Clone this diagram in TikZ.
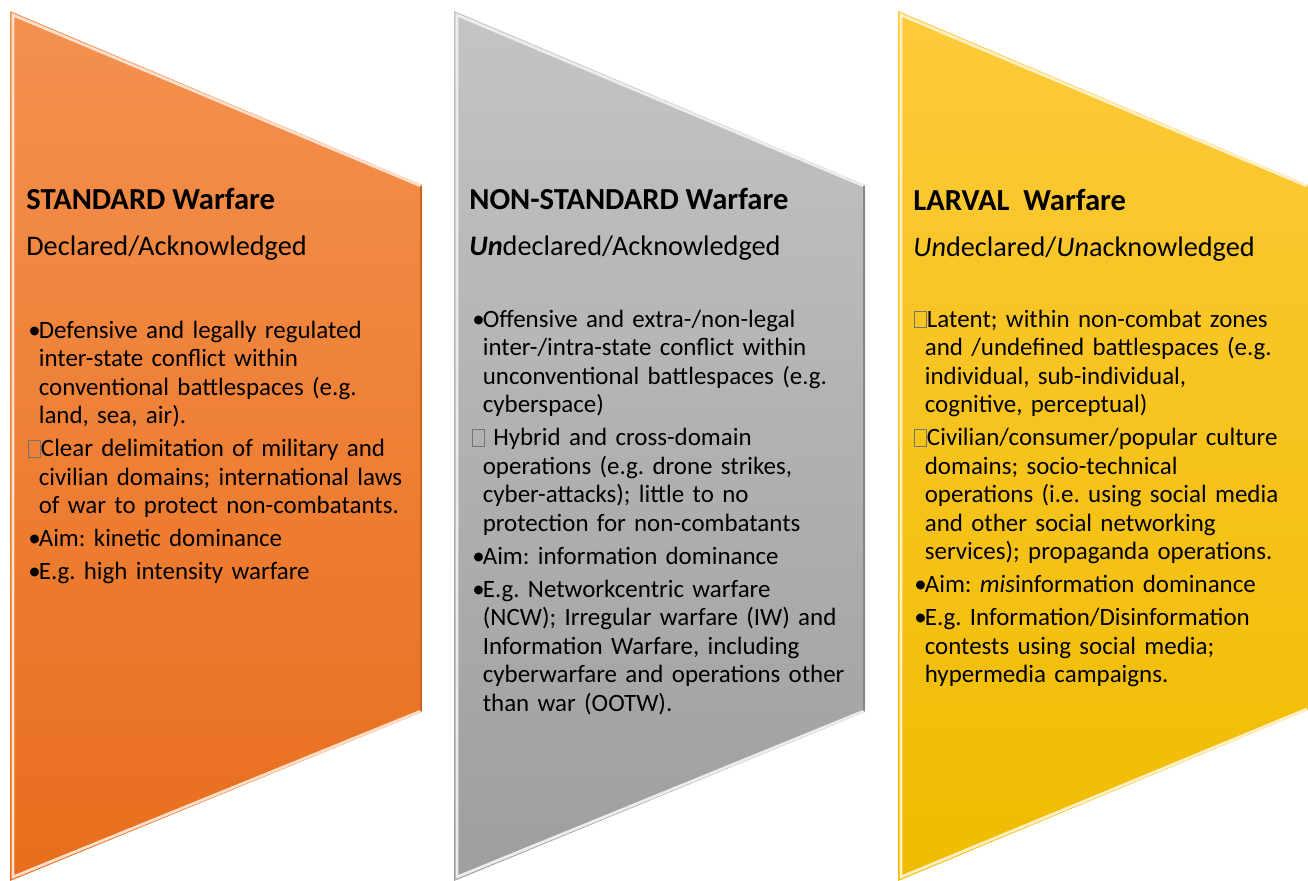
\documentclass[tikz,border=0pt]{standalone}
\usepackage{fontspec}
\setmainfont{Carlito}
\usepackage{xcolor}
\usetikzlibrary{positioning}
\definecolor{stdtop}{RGB}{244,145,80}
\definecolor{stdbot}{RGB}{232,110,28}
\definecolor{nstdtop}{RGB}{196,196,196}
\definecolor{nstdbot}{RGB}{158,158,158}
\definecolor{lartop}{RGB}{253,202,58}
\definecolor{larbot}{RGB}{240,188,0}

% bullet and the empty glyph box used as item markers
\newcommand\bul{\makebox[0.42em][l]{•}}
\newcommand\boxmark{{\color{black!55}\fboxsep=0pt\fboxrule=0.4pt\fbox{\rule{0pt}{0.64em}\hspace{0.45em}}}}
\newcommand\pitem{\par\hangindent=0.42em\hangafter=1\noindent}

\begin{document}
\begin{tikzpicture}[x=0.02cm, y=-0.02cm,
  head/.style={anchor=base west, inner sep=0pt, font=\fontsize{17.4}{20}\selectfont\bfseries},
  sub/.style={anchor=base west, inner sep=0pt, font=\fontsize{16.1}{19}\selectfont},
  body/.style={anchor=north west, inner sep=0pt, text width=8.2cm, align=left,
    font=\fontsize{14.2}{16.2}\selectfont\frenchspacing\setlength\parskip{2.6pt}},
  bevel/.style={line width=1.6pt, line join=miter},
  edge/.style={line width=1pt}
]
  \useasboundingbox (0,0) rectangle (1308,881);

  \shade[top color=stdtop, bottom color=stdbot] (10,11) -- (422,185) -- (422,712) -- (10,881) -- cycle;
  \draw[bevel, stdtop!30!white] (421,711) -- (13,877) -- (13,15) -- (421,186);
  \draw[edge, stdbot!90!black] (421,186) -- (421,711);
  \shade[top color=nstdtop, bottom color=nstdbot] (454,11) -- (865,185) -- (865,712) -- (454,881) -- cycle;
  \draw[bevel, white!85!gray] (864,711) -- (457,877) -- (457,15) -- (864,186);
  \draw[edge, nstdbot!85!black] (864,186) -- (864,711);
  \shade[top color=lartop, bottom color=larbot] (898,11) -- (1308,185) -- (1308,710) -- (898,881) -- cycle;
  \draw[bevel, lartop!30!white] (1307,709) -- (901,877) -- (901,15) -- (1307,186);

  \node[head] (std-head) at (26,210) {STANDARD Warfare};
  \node[sub] (std-sub) at (26,256) {Declared/Acknowledged};
  \node[body] (std-body) at (28,305) {%
    \pitem\bul Defensive and legally regulated\newline inter-state conflict within\newline conventional battlespaces (e.g.\newline land, sea, air).
    \pitem\boxmark Clear delimitation of military and\newline civilian domains; international laws\newline of war to protect non-combatants.
    \pitem\bul Aim: kinetic dominance
    \pitem\bul E.g. high intensity warfare\par};

  \node[head] (nstd-head) at (469,210) {NON-STANDARD Warfare};
  \node[sub] (nstd-sub) at (469,256) {\textbf{\textit{Un}}declared/Acknowledged};
  \node[body] (nstd-body) at (472,294) {%
    \pitem\bul Offensive and extra-/non-legal\newline inter-/intra-state conflict within\newline unconventional battlespaces (e.g.\newline cyberspace)
    \pitem\boxmark\ Hybrid and cross-domain\newline operations (e.g. drone strikes,\newline cyber-attacks); little to no\newline protection for non-combatants
    \pitem\bul Aim: information dominance
    \pitem\bul E.g. Networkcentric warfare\newline (NCW); Irregular warfare (IW) and\newline Information Warfare, including\newline cyberwarfare and operations other\newline than war (OOTW).\par};

  \node[head] (lar-head) at (913,211) {LARVAL\ \ Warfare};
  \node[sub] (lar-sub) at (913,257) {\textit{Un}declared/\textit{Un}acknowledged};
  \node[body] (lar-body) at (914,294) {%
    \pitem\boxmark Latent; within non-combat zones\newline and /undefined battlespaces (e.g.\newline individual, sub-individual,\newline cognitive, perceptual)
    \pitem\boxmark Civilian/consumer/popular culture\newline domains; socio-technical\newline operations (i.e. using social media\newline and other social networking\newline services); propaganda operations.
    \pitem\bul Aim: \textit{mis}information dominance
    \pitem\bul E.g. Information/Disinformation\newline contests using social media;\newline hypermedia campaigns.\par};
\end{tikzpicture}
\end{document}
